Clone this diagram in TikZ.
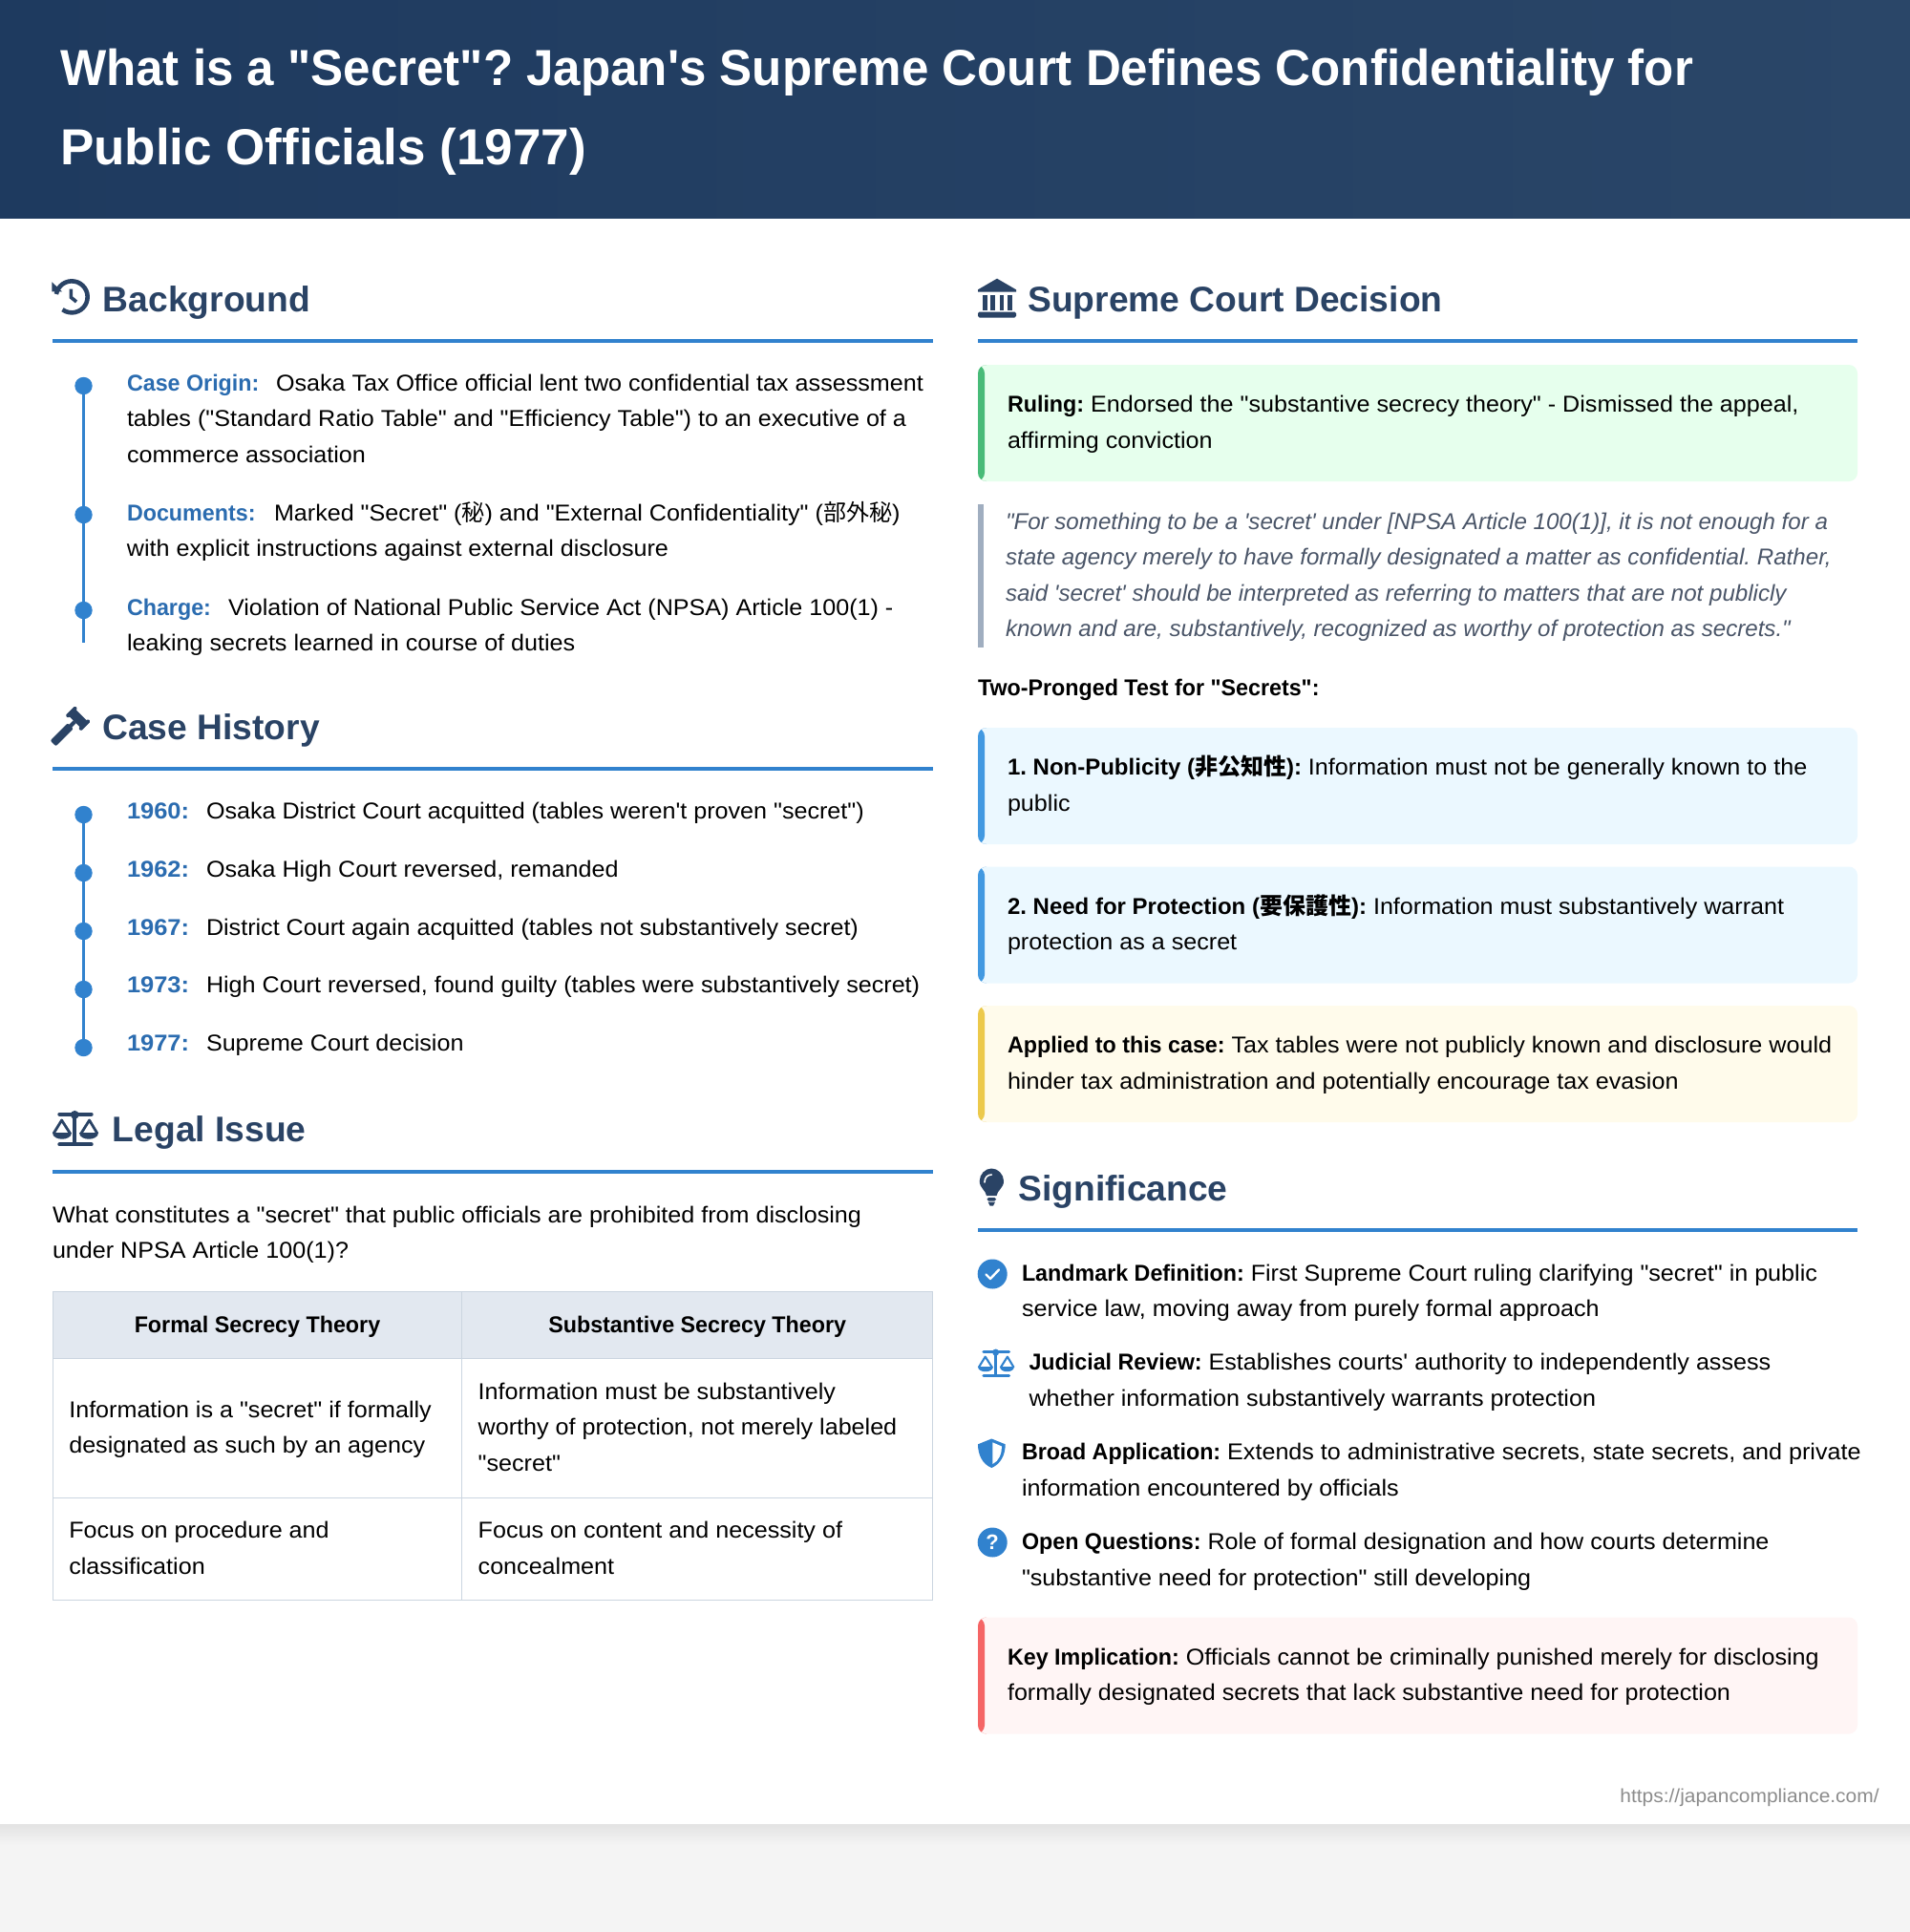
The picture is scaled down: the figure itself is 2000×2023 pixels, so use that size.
\documentclass[tikz,border=0pt]{standalone}
\usepackage{fontspec}
\usepackage{tikz}
\newfontfamily\rb{Liberation Sans}[UprightFeatures={FakeStretch=1.047}, BoldFeatures={FakeStretch=.97}, ItalicFeatures={FakeStretch=1.005}]
\newfontfamily\rbhead{Liberation Sans}
\newfontfamily\rbtitle{Liberation Sans}[BoldFeatures={FakeStretch=.964}]
\newfontfamily\rbnum{Liberation Sans}[BoldFeatures={FakeStretch=1.06}]
\newfontfamily\cjk{Noto Sans CJK JP}
\definecolor{headleft}{HTML}{1E3A5F}
\definecolor{headright}{HTML}{2A4668}
\definecolor{navy}{HTML}{2A4365}
\definecolor{ruleblue}{HTML}{3182CE}
\definecolor{labelblue}{HTML}{2B6CB0}
\definecolor{pagegray}{HTML}{F4F4F4}
\definecolor{quotebar}{HTML}{A0AEC0}
\definecolor{quotetxt}{HTML}{4A5568}
\definecolor{tablehead}{HTML}{E2E8F0}
\definecolor{tableline}{HTML}{CBD5E0}
\definecolor{greenbox}{HTML}{E6FFED}
\definecolor{greenbar}{HTML}{48BB78}
\definecolor{bluebox}{HTML}{EBF8FF}
\definecolor{bluebar}{HTML}{4299E1}
\definecolor{yellowbox}{HTML}{FFFBEB}
\definecolor{yellowbar}{HTML}{ECC94B}
\definecolor{redbox}{HTML}{FFF5F5}
\definecolor{redbar}{HTML}{F56565}
\newcommand{\bodysize}{\fontsize{12}{18.75}\selectfont}
\newcommand{\lbl}[2]{\makebox[#1][l]{\bfseries\color{labelblue}#2}}
\newcommand{\yearlbl}[1]{\makebox[41.5pt][l]{\rbnum\bfseries\color{labelblue}#1}}
\tikzset{
	headtxt/.style={anchor=base west, inner sep=0pt, text=navy, font=\rbhead\bfseries\fontsize{18.6}{22}\selectfont},
	headrule/.style={fill=ruleblue},
	bodytxt/.style={anchor=north west, inner sep=0pt, outer sep=0pt, text width=445pt, align=flush left, font=\rb\bodysize, execute at begin node=\strut, execute at end node=\strut},
	quotetext/.style={bodytxt, text=quotetxt, font=\rb\itshape\bodysize},
	boxtxt/.style={bodytxt, anchor=west, xshift=15.5pt},
	dot/.style={circle, fill=ruleblue, inner sep=0pt, outer sep=0pt, minimum size=9.2pt},
	link/.style={draw=ruleblue, line width=1.6pt},
	callout/.style 2 args={anchor=north west, inner sep=0pt, outer sep=0pt, rounded corners=4.5pt, minimum width=460.5pt, minimum height=61pt, fill=#1,
		path picture={\fill[#2] (path picture bounding box.north west) rectangle ([xshift=3.5pt]path picture bounding box.south west);}},
	cell/.style 2 args={draw=tableline, line width=.5pt, anchor=north west, inner xsep=8.5pt, inner ysep=0pt, outer sep=0pt, text width=#1, minimum height=#2, align=flush left, font=\rb\bodysize, execute at begin node=\strut, execute at end node=\strut},
	iconcircle/.style={circle, fill=ruleblue, inner sep=0pt, outer sep=0pt, minimum size=15.5pt},
	pics/historyicon/.style={code={
		\draw[navy, line width=2.3pt] (3.9,16) arc[start angle=-170, end angle=126, radius=16.5];
		\fill[navy] (-0.7,3.3) -- (-0.7,13.3) -- (10,13.3) -- cycle;
		\draw[navy, line width=1.8pt] (19.3,10.7) -- (19.3,19.3) -- (25,24);
	}},
	pics/gavelicon/.style={code={
		\begin{scope}[shift={(26.7,11.3)}, rotate=-45]
			\fill[navy] (-8,-5) rectangle (8,5);
			\fill[navy, rounded corners=.6pt] (-11.5,-7) rectangle (-7.5,7);
			\fill[navy, rounded corners=.6pt] (7.5,-7) rectangle (11.5,7);
			\fill[navy] (-2,5) rectangle (2,12);
			\fill[navy, rounded corners=1pt] (-4.2,11) rectangle (4.2,37);
		\end{scope}
	}},
	pics/scaleicon/.style 2 args={code={
		\draw[#1, line width=#2, line cap=round] (7.3,3.7) -- (40.7,3.7) (7.3,35.3) -- (40.7,35.3);
		\draw[#1, line width=#2] (23.3,4) -- (23.3,35.3);
		\fill[#1] (23.3,4.3) circle[radius=4.4];
		\draw[#1, line width=.7*#2, line join=round] (1,24) -- (9.6,10) -- (18.6,24);
		\fill[#1] (0,23) -- (20,23) .. controls (20,32) and (0,32) .. (0,23) -- cycle;
		\draw[#1, line width=.7*#2, line join=round] (29.8,24) -- (38.6,10) -- (47,24);
		\fill[#1] (28.4,23) -- (48,23) .. controls (48,32) and (28.4,32) .. (28.4,23) -- cycle;
	}},
	pics/courticon/.style={code={
		\fill[navy] (20,-.3) -- (40,11.3) -- (40,13.7) -- (0,13.7) -- (0,11.3) -- cycle;
		\fill[navy] (4.5,16.5) rectangle (9.5,33);
		\fill[navy] (13,16.5) rectangle (17.5,33);
		\fill[navy] (22.5,16.5) rectangle (27,33);
		\fill[navy] (30.5,16.5) rectangle (35.5,33);
		\fill[navy, rounded corners=.8pt] (0,34.5) rectangle (40,40.5);
	}},
	pics/bulbicon/.style={code={
		\fill[navy] (9,28) .. controls (8,22) and (1.7,20) .. (1.7,12.7) .. controls (1.7,5.5) and (7.5,-.5) .. (14.3,-.5) .. controls (21,-.5) and (27,5.5) .. (27,12.7) .. controls (27,20) and (20.5,22) .. (19.5,28) -- cycle;
		\draw[white, line width=.8pt, line cap=round] (7,14) .. controls (7,9) and (10,6) .. (14.3,6);
		\fill[navy, rounded corners=.8pt] (9.5,30) rectangle (19,33.5);
		\fill[navy] (10.5,34.5) -- (18,34.5) -- (16,38.5) -- (12.5,38.5) -- cycle;
	}},
	pics/shieldicon/.style={code={
		\fill[ruleblue] (14.3,.5) -- (28.7,6.3) .. controls (28.7,17) and (24,27) .. (14.3,31) .. controls (4.5,27) and (0,17) .. (0,6.3) -- cycle;
		\fill[white] (15.3,4.3) -- (25,8.5) .. controls (25,16) and (22,24) .. (15.3,27) -- cycle;
	}},
}

\begin{document}
\frenchspacing
\begin{tikzpicture}[x=0.5pt, y=-0.5pt]
	\useasboundingbox (0,0) rectangle (2000,2023);
	\fill[pagegray] (0,0) rectangle (2000,2023);
	\shade[top color=black!11, bottom color=pagegray] (0,1910) rectangle (2000,1932);
	\fill[white] (0,228) rectangle (2000,1910);
	\shade[left color=headleft, right color=headright] (0,0) rectangle (2000,228);

	\node[bodytxt, text width=960pt, text=white, font=\rbtitle\bfseries\fontsize{26.5}{41.5}\selectfont] (title) at (63,31) {What is a "Secret"? Japan's Supreme Court Defines Confidentiality for\\{\rbhead\bfseries Public Officials (1977)}};

	% left column
	\pic at (55,292) {historyicon};
	\node[headtxt] (bghead) at (107.5,326) {Background};
	\fill[headrule] (55,355) rectangle (977,359);

	\node[dot] (bg1) at (87.5,404) {};
	\node[dot] (bg2) at (87.5,539) {};
	\node[dot] (bg3) at (87.5,639) {};
	\coordinate (bgend) at (87.5,673);
	\draw[link] (bg1) -- (bg2);
	\draw[link] (bg2) -- (bg3);
	\draw[link] (bg3) -- (bgend);
	\node[bodytxt] (origin) at (133,383) {\lbl{78pt}{Case Origin:}Osaka Tax Office official lent two confidential tax assessment\\tables ("Standard Ratio Table" and "Efficiency Table") to an executive of a\\commerce association};
	\node[bodytxt] (docs) at (133,519) {\lbl{77pt}{Documents:}Marked "Secret" ({\cjk 秘}) and "External Confidentiality" ({\cjk 部外秘})\\with explicit instructions against external disclosure};
	\node[bodytxt] (charge) at (133,618) {\lbl{53pt}{Charge:}Violation of National Public Service Act (NPSA) Article 100(1) -\\leaking secrets learned in course of duties};

	\pic at (55,741) {gavelicon};
	\node[headtxt] (histhead) at (107,774) {Case History};
	\fill[headrule] (55,803) rectangle (977,807);

	\node[dot] (y60) at (87.5,853) {};
	\node[dot] (y62) at (87.5,914) {};
	\node[dot] (y67) at (87.5,975) {};
	\node[dot] (y73) at (87.5,1036) {};
	\node[dot] (y77) at (87.5,1097) {};
	\draw[link] (y60) -- (y62);
	\draw[link] (y62) -- (y67);
	\draw[link] (y67) -- (y73);
	\draw[link] (y73) -- (y77);
	\node[bodytxt] (t60) at (133,831) {\yearlbl{1960:}Osaka District Court acquitted (tables weren't proven "secret")};
	\node[bodytxt] (t62) at (133,892) {\yearlbl{1962:}Osaka High Court reversed, remanded};
	\node[bodytxt] (t67) at (133,953) {\yearlbl{1967:}District Court again acquitted (tables not substantively secret)};
	\node[bodytxt] (t73) at (133,1013) {\yearlbl{1973:}High Court reversed, found guilty (tables were substantively secret)};
	\node[bodytxt] (t77) at (133,1074) {\yearlbl{1977:}Supreme Court decision};

	\pic at (55,1163) {scaleicon={navy}{2pt}};
	\node[headtxt] (legalhead) at (117.5,1195) {Legal Issue};
	\fill[headrule] (55,1225) rectangle (977,1229);
	\node[bodytxt] (question) at (55,1254) {What constitutes a "secret" that public officials are prohibited from disclosing\\under NPSA Article 100(1)?};

	\node[cell={197.2pt}{35.2pt}, fill=tablehead, align=flush center] (th1) at (55.3,1352.3) {\textbf{Formal Secrecy Theory}};
	\node[cell={229.5pt}{35.2pt}, fill=tablehead, align=flush center] (th2) at (483.7,1352.3) {\textbf{Substantive Secrecy Theory}};
	\node[cell={197.2pt}{72.65pt}] (a1) at (55.3,1422.7) {Information is a "secret" if formally\\designated as such by an agency};
	\node[cell={229.5pt}{72.65pt}] (b1) at (483.7,1422.7) {Information must be substantively\\worthy of protection, not merely labeled\\"secret"};
	\node[cell={197.2pt}{53.85pt}] (a2) at (55.3,1568) {Focus on procedure and\\classification};
	\node[cell={229.5pt}{53.85pt}] (b2) at (483.7,1568) {Focus on content and necessity of\\concealment};

	% right column
	\pic at (1024,292) {courticon};
	\node[headtxt] (courthead) at (1076,326) {Supreme Court Decision};
	\fill[headrule] (1024,355) rectangle (1945,359);

	\node[callout={greenbox}{greenbar}] (ruling) at (1024,382) {};
	\node[boxtxt] (rulingtxt) at (ruling.west) {\textbf{Ruling:} Endorsed the "substantive secrecy theory" - Dismissed the appeal,\\affirming conviction};

	\fill[quotebar] (1024,528) rectangle (1030,678);
	\node[quotetext] (quote) at (1053,528) {"For something to be a 'secret' under [NPSA Article 100(1)], it is not enough for a\\state agency merely to have formally designated a matter as confidential. Rather,\\said 'secret' should be interpreted as referring to matters that are not publicly\\known and are, substantively, recognized as worthy of protection as secrets."};

	\node[bodytxt] (prong) at (1024,702) {\textbf{Two-Pronged Test for "Secrets":}};

	\node[callout={bluebox}{bluebar}] (test1) at (1024,762) {};
	\node[boxtxt] (test1txt) at (test1.west) {{\rbhead\bfseries 1. Non-Publicity ({\cjk 非公知性}):} Information must not be generally known to the\\public};
	\node[callout={bluebox}{bluebar}] (test2) at (1024,907.5) {};
	\node[boxtxt] (test2txt) at (test2.west) {{\rbhead\bfseries 2. Need for Protection ({\cjk 要保護性}):} Information must substantively warrant\\protection as a secret};
	\node[callout={yellowbox}{yellowbar}] (applied) at (1024,1053) {};
	\node[boxtxt] (appliedtxt) at (applied.west) {\textbf{Applied to this case:} Tax tables were not publicly known and disclosure would\\hinder tax administration and potentially encourage tax evasion};

	\pic at (1024,1224) {bulbicon};
	\node[headtxt] (sighead) at (1066,1257) {Significance};
	\fill[headrule] (1024,1286) rectangle (1945,1290);

	\node[iconcircle] (checkicon) at (1039.2,1334) {};
	\draw[white, line width=1.2pt, line cap=round, line join=round] (1032.5,1334.5) -- (1037,1339) -- (1046,1329.5);
	\node[bodytxt] (landmark) at (1070,1315) {\textbf{Landmark Definition:} First Supreme Court ruling clarifying "secret" in public\\service law, moving away from purely formal approach};
	\pic[scale=.8] at (1024,1412.6) {scaleicon={ruleblue}{1.5pt}};
	\node[bodytxt] (review) at (1077.5,1408.5) {\textbf{Judicial Review:} Establishes courts' authority to independently assess\\whether information substantively warrants protection};
	\pic at (1024,1506) {shieldicon};
	\node[bodytxt] (broad) at (1070,1502.5) {\textbf{Broad Application:} Extends to administrative secrets, state secrets, and private\\information encountered by officials};
	\node[iconcircle, text=white, font=\rbhead\bfseries\fontsize{11}{12}\selectfont] (openicon) at (1039.2,1615) {?};
	\node[bodytxt] (open) at (1070,1596.5) {\textbf{Open Questions:} Role of formal designation and how courts determine\\"substantive need for protection" still developing};

	\node[callout={redbox}{redbar}] (key) at (1024,1693.5) {};
	\node[boxtxt] (keytxt) at (key.west) {\textbf{Key Implication:} Officials cannot be criminally punished merely for disclosing\\formally designated secrets that lack substantive need for protection};

	\node[anchor=base east, inner sep=0pt, text=black!45, font=\rb\fontsize{10}{12}\selectfont] (url) at (1968,1887) {https://japancompliance.com/};
\end{tikzpicture}
\end{document}
